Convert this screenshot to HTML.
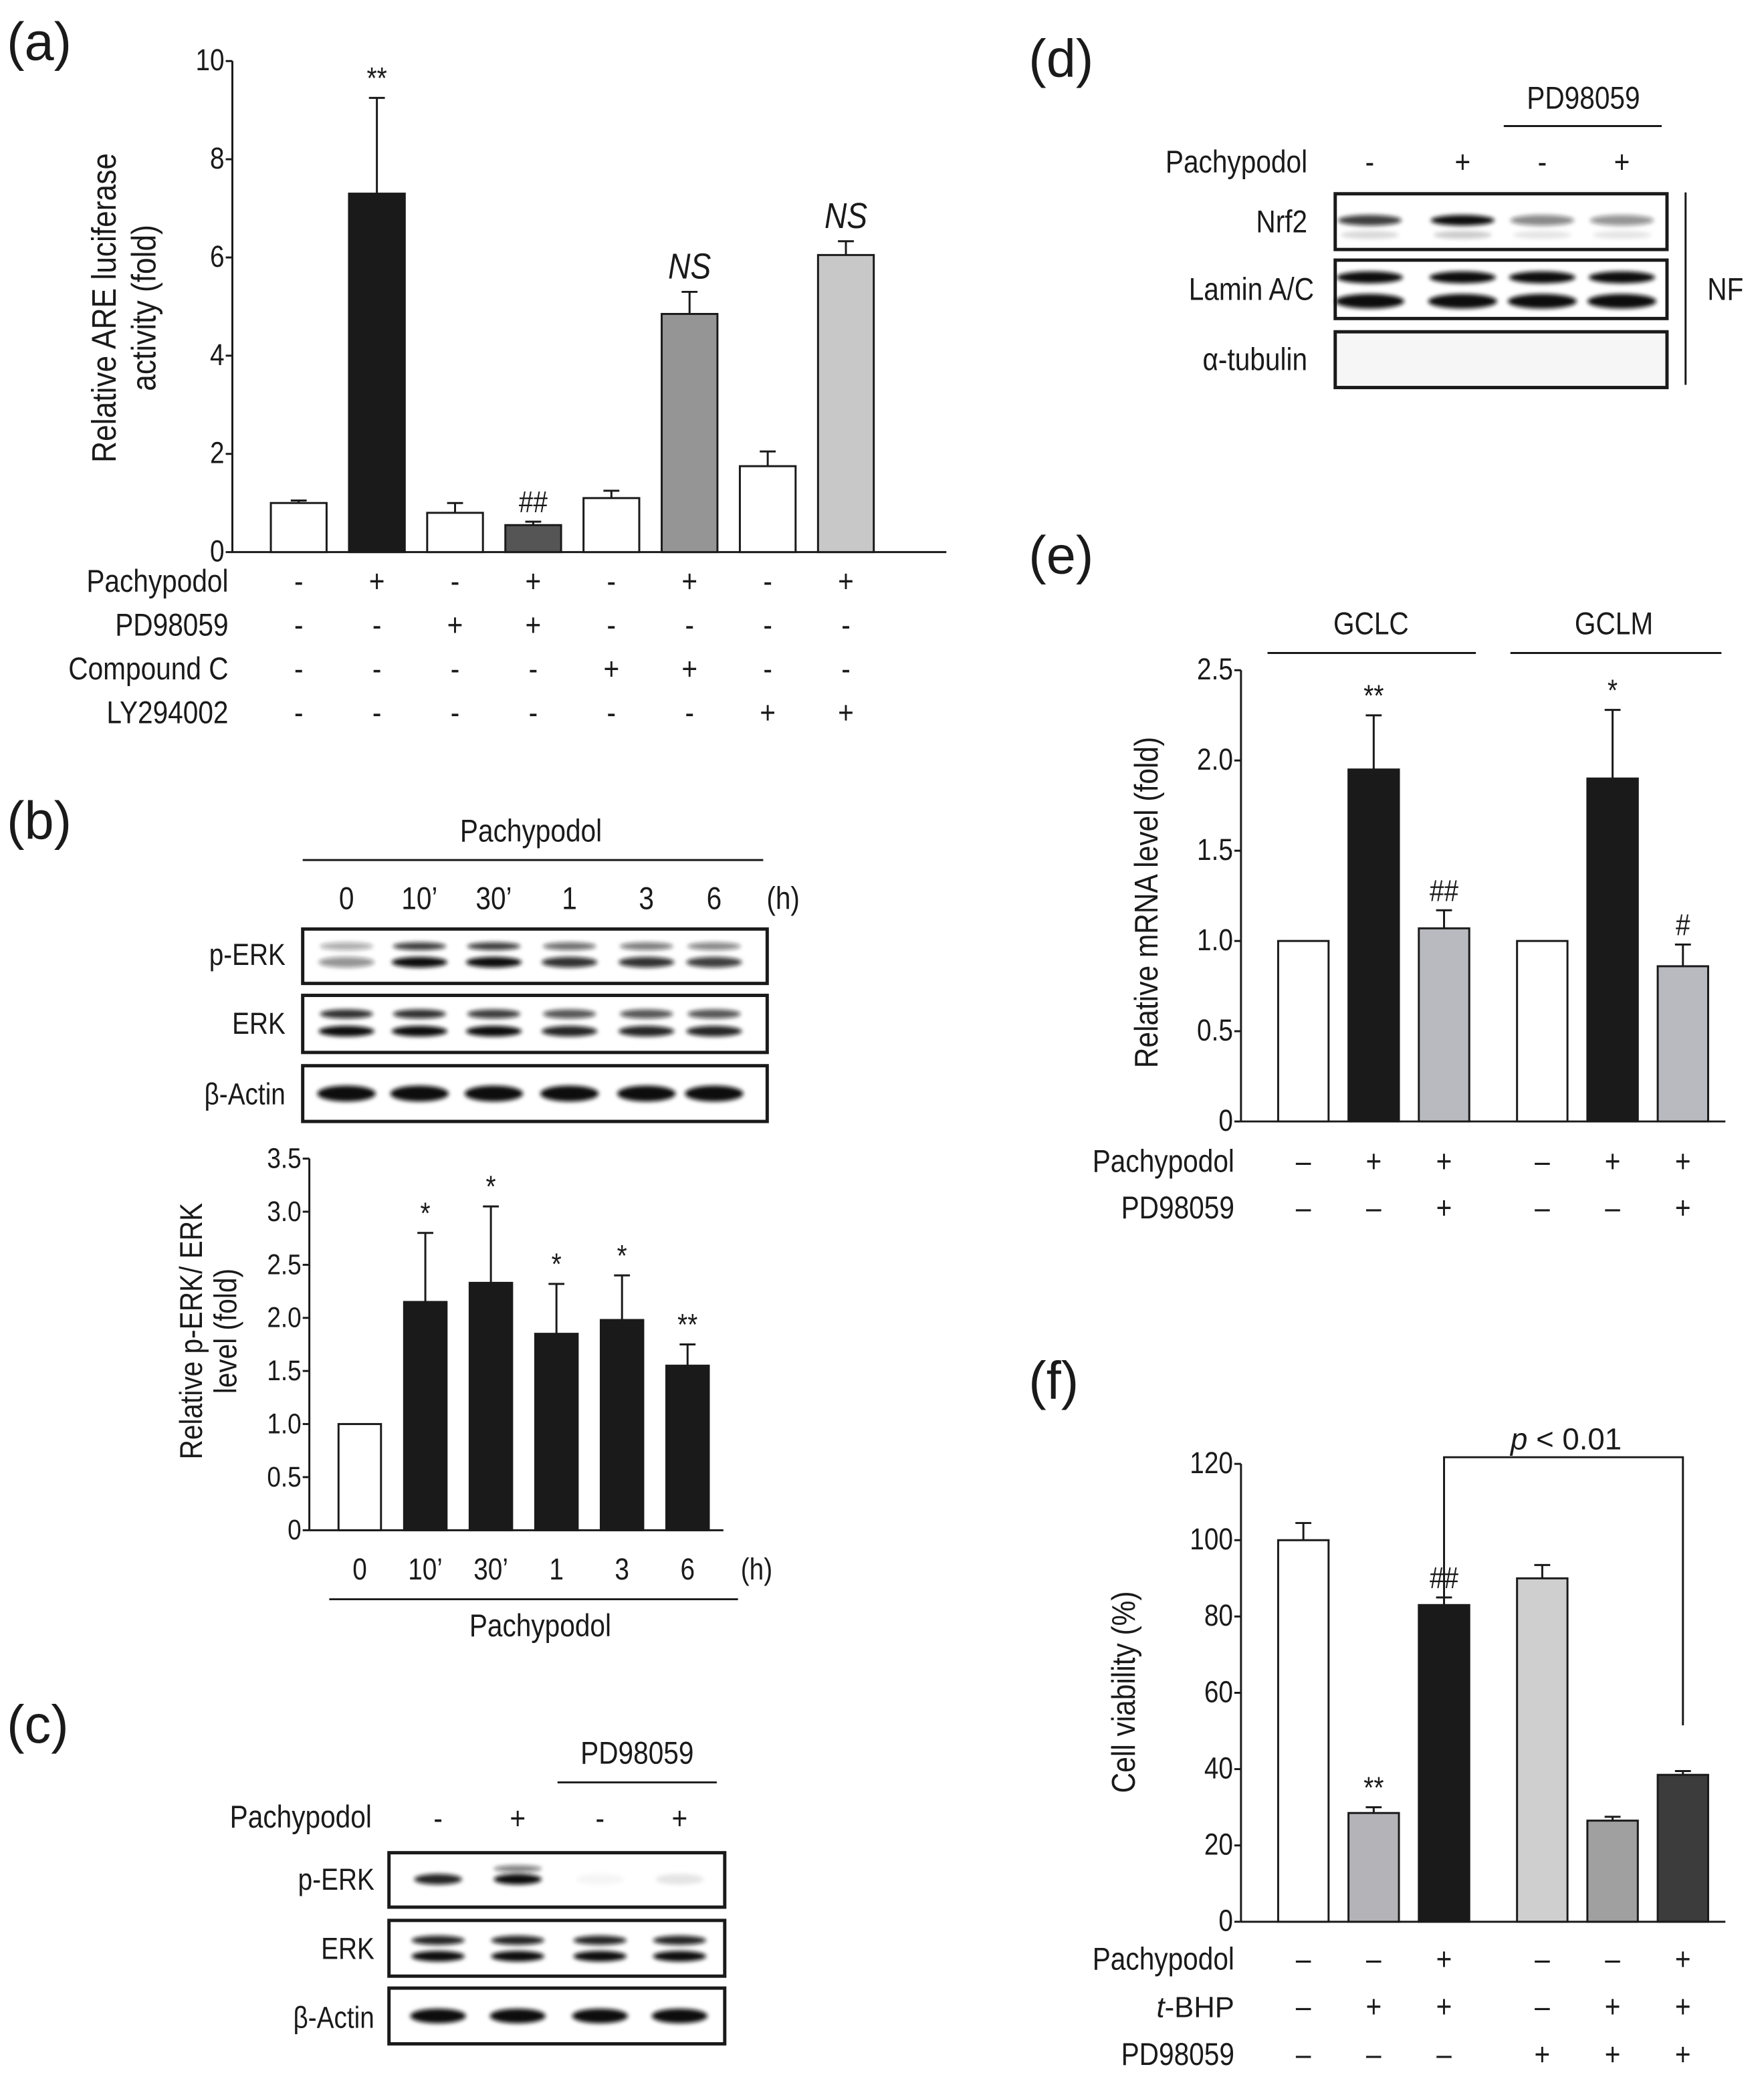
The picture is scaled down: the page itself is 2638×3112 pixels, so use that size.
<!DOCTYPE html>
<html><head><meta charset="utf-8"><style>
html,body{margin:0;padding:0;background:#fff}
svg{display:block}
text{font-family:"Liberation Sans",sans-serif;fill:#1a1a1a}
</style></head><body>
<svg id="fig" width="2638" height="3112" viewBox="0 0 1329 1568" xmlns="http://www.w3.org/2000/svg">
<defs>
<filter id="blur" x="-20%" y="-50%" width="140%" height="200%"><feGaussianBlur stdDeviation="1.6"/></filter>
</defs>
<g id="root"></g>
</svg>
<script>
// ---- Panel (a) data ----
const aValues = [1.0, 7.3, 0.8, 0.55, 1.1, 4.85, 1.75, 6.05];
const aErrors = [0.05, 1.95, 0.2, 0.07, 0.15, 0.45, 0.3, 0.28];
const aFills = ['#fff','#1a1a1a','#fff','#555','#fff','#959595','#fff','#c8c8c8'];
const aTicks = [0, 2, 4, 6, 8, 10];
const aAnnot = ['', '**', '', '##', '', 'NS', '', 'NS'];
const aRowLabels = ['Pachypodol','PD98059','Compound C','LY294002'];
const aSigns = [['-','+','-','+','-','+','-','+'],['-','-','+','+','-','-','-','-'],['-','-','-','-','+','+','-','-'],['-','-','-','-','-','-','+','+']];
// ---- Panel (b) data ----
const bCats = ['0', "10’", "30’", '1', '3', '6'];
const bValues = [1.0, 2.15, 2.33, 1.85, 1.98, 1.55];
const bErrors = [0, 0.65, 0.72, 0.47, 0.42, 0.2];
const bTicks = [0, 0.5, 1.0, 1.5, 2.0, 2.5, 3.0, 3.5];
const bTickLabels = ['0','0.5','1.0','1.5','2.0','2.5','3.0','3.5'];
const bAnnot = ['', '*', '*', '*', '*', '**'];
// ---- Panel (e) data ----
const eValues = [1, 1.95, 1.07, 1, 1.9, 0.86];
const eErrors = [0, 0.3, 0.1, 0, 0.38, 0.12];
const eFills = ['#fff','#1a1a1a','#b9b9c0','#fff','#1a1a1a','#b9b9c0'];
const eTicks = [0, 0.5, 1.0, 1.5, 2.0, 2.5];
const eTickLabels = ['0','0.5','1.0','1.5','2.0','2.5'];
const eAnnot = ['', '**', '##', '', '*', '#'];
const eSigns = [['–','+','+','–','+','+'],['–','–','+','–','–','+']];
// ---- Panel (f) data ----
const fValues = [100, 28.5, 83, 90, 26.5, 38.5];
const fErrors = [4.5, 1.5, 2, 3.5, 1, 1];
const fFills = ['#fff','#b3b3b8','#1a1a1a','#cfcfcf','#a0a0a0','#3c3c3c'];
const fTicks = [0, 20, 40, 60, 80, 100, 120];
const fAnnot = ['', '**', '##', '', '', ''];
const fSigns = [['–','–','+','–','–','+'],['–','+','+','–','+','+'],['–','–','–','+','+','+']];

const NS='http://www.w3.org/2000/svg';
const root=document.getElementById('root');
function el(tag, attrs, parent, txt){
  const e=document.createElementNS(NS,tag);
  for(const k in attrs) e.setAttribute(k,attrs[k]);
  if(txt!==undefined) e.textContent=txt;
  (parent||root).appendChild(e); return e;
}
function T(x,y,s,size,anchor,parent,extra){
  const base={x:x,y:y,'font-size':size,'text-anchor':anchor||'start'};
  if(size<30 && !(extra&&extra.transform)){
    // slightly condensed, taller text like the reference
    base.transform=`translate(${x},${y}) scale(0.93,1.08) translate(${-x},${-y})`;
  }
  const t=el('text',Object.assign(base,extra||{}),parent,s);
  return t;
}
function line(x1,y1,x2,y2,w,parent){return el('line',{x1,y1,x2,y2,stroke:'#1a1a1a','stroke-width':w||1.5},parent);}

function barChart(o){
  const g=el('g',{});  
  const ys=v=>o.y0-(v-o.vmin)/(o.vmax-o.vmin)*(o.y0-o.y1);
  const xs=i=>o.x0c+i*o.step+(o.gapAfter!==undefined&&i>o.gapAfter?o.gap:0);
  const ya=line(o.ax,o.y1,o.ax,o.y0,1.5,g);  
  const xa=line(o.ax,o.y0,o.axEnd,o.y0,1.5,g);  
  o.ticks.forEach((t,i)=>{
    line(o.ax-5,ys(t),o.ax,ys(t),1.5,g);
    const tl=T(o.ax-6,ys(t)+7,o.tickLabels?o.tickLabels[i]:String(t),o.tickSize||20,'end',g);
     
  });
  o.values.forEach((v,i)=>{
    const x=xs(i), top=ys(v);
    const r=el('rect',{x:x-o.bw/2,y:top,width:o.bw,height:o.y0-top,fill:o.fills[i],stroke:'#1a1a1a','stroke-width':1.5},g);
     
    const e=o.errors[i];
    if(e>0){
      const et=ys(v+e);
      line(x,top,x,et,1.5,g); line(x-6,et,x+6,et,1.5,g);
    }
    if(o.annot[i]){
      const a=o.annot[i];
      const isNS=a==='NS';
      const at=T(x,ys(v+e)-(isNS?10:7),a,isNS?25:21,'middle',g,isNS?{'font-style':'italic'}:{fill:'#444','font-family':'Liberation Serif, serif'});
       
    }
  });
  return {g,xs,ys};
}

function blot(x,y,w,h,lanes,bands,name){
  const g=el('g',{});  
  el('rect',{x,y,width:w,height:h,fill:name.indexOf('tubulin')>=0?'#f6f6f6':'#fff',stroke:'#1a1a1a','stroke-width':2.5},g);
  const bg=el('g',{filter:'url(#blur)'},g);
  lanes.forEach((lx,i)=>{
    bands.forEach(b=>{
      const op=b.op[i]; if(op<=0) return;
      el('ellipse',{cx:lx,cy:y+b.dy,rx:b.rx,ry:b.ry,fill:'#111','fill-opacity':op},bg);
    });
  });
  return g;
}

// ---------- Panel (a) ----------
T(5,45,'(a)',40,'start',null,{});
const A=barChart({name:'chart-a',ax:175,axEnd:713,y0:416,y1:46,vmin:0,vmax:10,x0c:225,step:58.9,bw:42,values:aValues,errors:aErrors,fills:aFills,ticks:aTicks,annot:aAnnot,tickSize:21});
{const g=el('g',{transform:'translate(95,232) rotate(-90)'});  
T(0,-8,'Relative ARE luciferase',24,'middle',g); T(0,22,'activity (fold)',24,'middle',g);}
aRowLabels.forEach((lab,r)=>{
  const y=446+r*33;
  const t=T(172,y,lab,22,'end');  
  aSigns[r].forEach((s,i)=>T(A.xs(i),y,s,22,'middle'));
});

// ---------- Panel (b) ----------
T(5,632,'(b)',40,'start',null,{});
T(400,634,'Pachypodol',22,'middle'); line(228,648,575,648,1.5);
const bLanes=[261,316,372,429,487,538];
bCats.forEach((c,i)=>T(bLanes[i],685,c,22,'middle')); T(590,685,'(h)',22,'middle');
T(215,727,'p-ERK',21,'end'); T(215,779,'ERK',21,'end'); T(215,832,'β-Actin',21,'end');
blot(228,700,350,41,bLanes,[{dy:13,rx:20,ry:3,op:[0.35,0.8,0.8,0.6,0.55,0.5]},{dy:25,rx:21,ry:4,op:[0.45,1,1,0.85,0.85,0.8]}],'blot-b-p-erk');
blot(228,750,350,43,bLanes,[{dy:14,rx:20,ry:3.5,op:[0.85,0.85,0.8,0.7,0.7,0.7]},{dy:27,rx:21,ry:4,op:[1,1,1,0.9,0.9,0.9]}],'blot-b-erk');
blot(228,803,350,42,bLanes,[{dy:21,rx:22,ry:6,op:[1,1,1,1,1,1]}],'blot-b-actin');
const B=barChart({name:'chart-b',ax:233,axEnd:545,y0:1153,y1:873,vmin:0,vmax:3.5,x0c:271,step:49.4,bw:32,values:bValues,errors:bErrors,fills:['#fff','#1a1a1a','#1a1a1a','#1a1a1a','#1a1a1a','#1a1a1a'],ticks:bTicks,tickLabels:bTickLabels,annot:bAnnot,tickSize:20});
{const g=el('g',{transform:'translate(158,1003) rotate(-90)'});  
T(0,-6,'Relative p-ERK/ ERK',22,'middle',g); T(0,20,'level  (fold)',22,'middle',g);}
bCats.forEach((c,i)=>{const t=T(B.xs(i),1190,c,21,'middle');  });
T(570,1190,'(h)',21,'middle'); line(248,1205,556,1205,1.5); T(407,1233,'Pachypodol',22,'middle');

// ---------- Panel (c) ----------
T(5,1313,'(c)',40,'start',null,{});
T(480,1329,'PD98059',22,'middle'); line(420,1343,540,1343,1.5);
const cLanes=[330,390,452,512];
T(280,1377,'Pachypodol',22,'end'); ['-','+','-','+'].forEach((s,i)=>T(cLanes[i],1378,s,22,'middle'));
T(282,1424,'p-ERK',21,'end'); T(282,1476,'ERK',21,'end'); T(282,1528,'β-Actin',21,'end');
blot(293,1396,253,41,cLanes,[{dy:12,rx:18,ry:2.5,op:[0,0.55,0,0]},{dy:20,rx:18,ry:4,op:[0.9,1,0.04,0.1]}],'blot-c-p-erk');
blot(293,1447,253,42,cLanes,[{dy:15,rx:20,ry:3.5,op:[0.9,0.9,0.9,0.9]},{dy:27,rx:20,ry:4,op:[1,1,1,1]}],'blot-c-erk');
blot(293,1498,253,42,cLanes,[{dy:21,rx:21,ry:5.5,op:[1,1,1,1]}],'blot-c-actin');

// ---------- Panel (d) ----------
T(775,58,'(d)',40,'start',null,{});
T(1193,82,'PD98059',22,'middle'); line(1133,95,1252,95,1.5);
const dLanes=[1032,1102,1162,1222];
T(985,130,'Pachypodol',22,'end'); ['-','+','-','+'].forEach((s,i)=>T(dLanes[i],130,s,22,'middle'));
T(985,175,'Nrf2',22,'end'); T(990,226,'Lamin A/C',22,'end'); T(985,279,'α-tubulin',22,'end');
blot(1006,146,250,42,dLanes,[{dy:20,rx:24,ry:4,op:[0.8,1,0.5,0.45]},{dy:31,rx:22,ry:3,op:[0.15,0.2,0.1,0.1]}],'blot-d-nrf2');
blot(1006,196,250,44,dLanes,[{dy:13,rx:25,ry:4.5,op:[1,1,1,1]},{dy:31,rx:26,ry:5.5,op:[1,1,1,1]}],'blot-d-lamin');
blot(1006,250,250,42,dLanes,[],'blot-d-tubulin');
line(1270,145,1270,290,1.5); T(1300,226,'NF',22,'middle');

// ---------- Panel (e) ----------
T(775,432,'(e)',40,'start',null,{});
T(1033,478,'GCLC',22,'middle'); line(955,492,1112,492,1.5);
T(1216,478,'GCLM',22,'middle'); line(1138,492,1297,492,1.5);
const E=barChart({name:'chart-e',ax:935,axEnd:1300,y0:845,y1:505,vmin:0,vmax:2.5,x0c:982,step:53,gapAfter:2,gap:21,bw:38,values:eValues,errors:eErrors,fills:eFills,ticks:eTicks,tickLabels:eTickLabels,annot:eAnnot,tickSize:21});
{const g=el('g',{transform:'translate(872,680) rotate(-90)'});  
T(0,0,'Relative mRNA level (fold)',23,'middle',g);}
['Pachypodol','PD98059'].forEach((lab,r)=>{
  const y=883+r*35; T(930,y,lab,22,'end');
  eSigns[r].forEach((s,i)=>T(E.xs(i),y,s,22,'middle',null,{fill:'#444'}));
});

// ---------- Panel (f) ----------
T(775,1054,'(f)',40,'start',null,{});
const F=barChart({name:'chart-f',ax:935,axEnd:1300,y0:1448,y1:1103,vmin:0,vmax:120,x0c:982,step:53,gapAfter:2,gap:21,bw:38,values:fValues,errors:fErrors,fills:fFills,ticks:fTicks,annot:fAnnot,tickSize:21});
{const g=el('g',{transform:'translate(855,1275) rotate(-90)'});  
T(0,0,'Cell viability (%)',23,'middle',g);}
{const p=el('polyline',{points:`${F.xs(2)},1245 ${F.xs(2)},1098 ${F.xs(5)},1098 ${F.xs(5)},1300`,fill:'none',stroke:'#1a1a1a','stroke-width':1.5});
 
const t=el('text',{x:1180,y:1092,'font-size':23,'text-anchor':'middle'});
 
el('tspan',{'font-style':'italic'},t,'p'); el('tspan',{},t,' < 0.01');}
['Pachypodol','t-BHP','PD98059'].forEach((lab,r)=>{
  const y=1484+r*36;
  if(lab==='t-BHP'){const t=el('text',{x:930,y:y,'font-size':22,'text-anchor':'end'}); el('tspan',{'font-style':'italic'},t,'t'); el('tspan',{},t,'-BHP');}
  else T(930,y,lab,22,'end');
  fSigns[r].forEach((s,i)=>T(F.xs(i),y,s,22,'middle',null,{fill:'#444'}));
});
</script>
</body></html>
